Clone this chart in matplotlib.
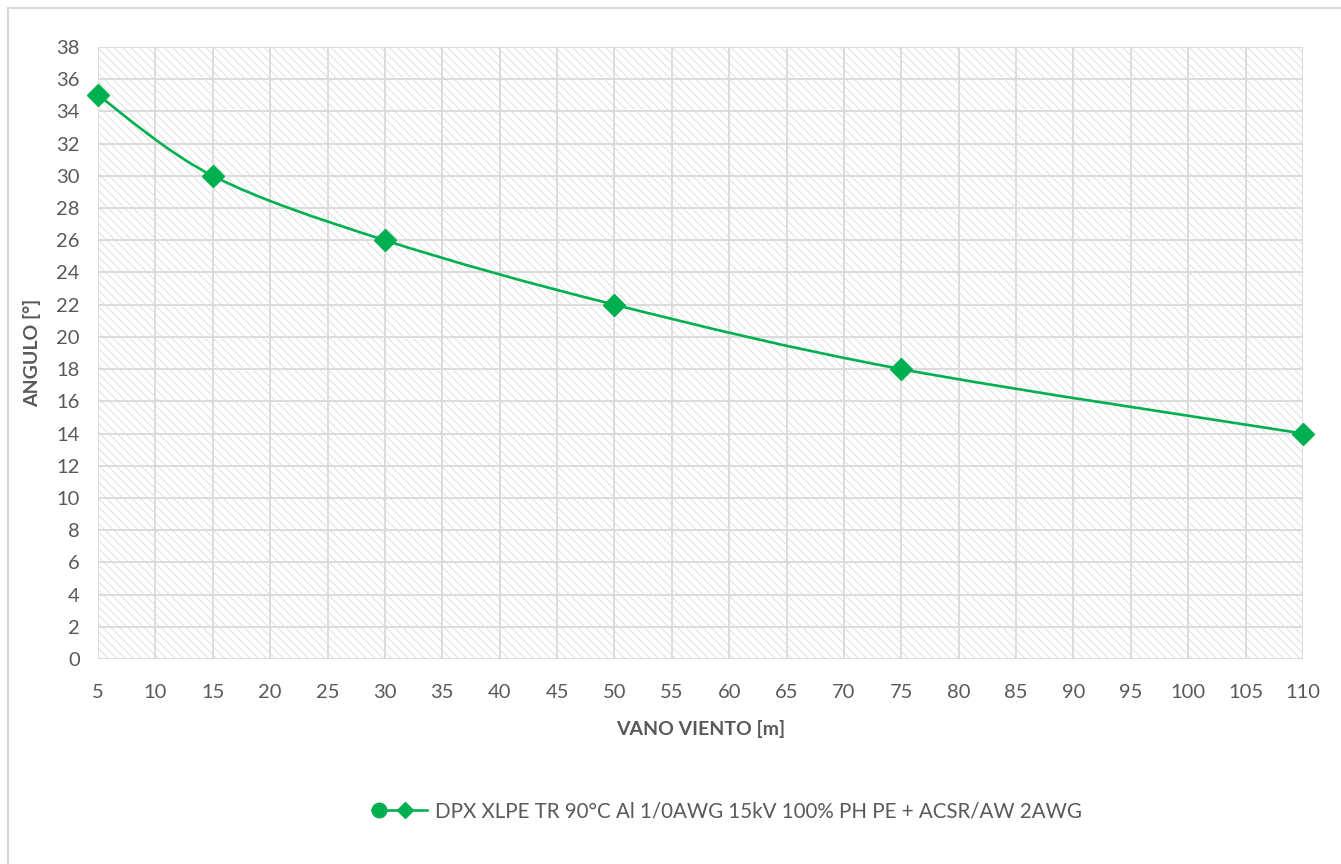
import matplotlib
matplotlib.use("Agg")
import matplotlib.pyplot as plt
from matplotlib.path import Path
from matplotlib.patches import PathPatch, Rectangle
from matplotlib.lines import Line2D
from matplotlib.legend_handler import HandlerBase
import numpy as np

# ---- data ----
vano = [5, 15, 30, 50, 75, 110]
angulo = [35, 30, 26, 22, 18, 14]
series_label = "DPX XLPE TR 90°C Al 1/0AWG 15kV 100% PH PE + ACSR/AW 2AWG"
x_ticks = list(range(5, 111, 5))
y_ticks = list(range(0, 39, 2))
x_label = "VANO VIENTO [m]"
y_label = "ANGULO [°]"

GREEN = "#00B050"
TXT = "#595959"
GRID = "#d9d9d9"

plt.rcParams['font.family'] = ['Lato', 'DejaVu Sans']
plt.rcParams['hatch.linewidth'] = 0.6

W, H = 1341, 864
fig = plt.figure(figsize=(W / 100, H / 100), dpi=100)

# chart border
fig.add_artist(Line2D([8 / W, 8 / W], [0, 1 - 8 / H], color=GRID, lw=1.5, transform=fig.transFigure))
fig.add_artist(Line2D([8 / W, 1], [1 - 8 / H, 1 - 8 / H], color=GRID, lw=1.5, transform=fig.transFigure))

left, right = 98 / W, 1303 / W
bottom, top = 1 - 659 / H, 1 - 47 / H
ax = fig.add_axes([left, bottom, right - left, top - bottom])
ax.set_facecolor("white")
ax.add_patch(Rectangle((0, 0), 1, 1, transform=ax.transAxes, facecolor="white",
                       hatch='\\\\\\\\', edgecolor="#dadada", lw=0, zorder=0))

ax.set_xlim(vano[0], vano[-1])
ax.set_ylim(0, 38)
ax.set_xticks(x_ticks)
ax.set_yticks(y_ticks)
ax.grid(True, color=GRID, lw=1.3, zorder=1)
ax.set_axisbelow(True)
for s in ax.spines.values():
    s.set_visible(False)
ax.tick_params(length=0, labelsize=14.5, labelcolor=TXT)
ax.tick_params(axis='y', pad=13)
ax.tick_params(axis='x', pad=18)

# smoothed line (Bezier through the data points, Excel-like)
pts = np.column_stack([vano, angulo]).astype(float)
verts = [tuple(pts[0])]
codes = [Path.MOVETO]
n = len(pts)
for i in range(n - 1):
    p0 = pts[i - 1] if i > 0 else pts[i]
    p1 = pts[i]
    p2 = pts[i + 1]
    p3 = pts[i + 2] if i + 2 < n else pts[i + 1]
    c1 = p1 + (p2 - p0) / 6.0
    c2 = p2 - (p3 - p1) / 6.0
    verts += [tuple(c1), tuple(c2), tuple(p2)]
    codes += [Path.CURVE4] * 3
ax.add_patch(PathPatch(Path(verts, codes), facecolor="none", edgecolor=GREEN, lw=1.9,
                       zorder=3, clip_on=False))
ax.plot(vano, angulo, linestyle="none", marker="D", ms=11.5, color=GREEN, zorder=4,
        clip_on=False)

ax.set_xlabel(x_label, fontsize=14, fontweight="bold", color=TXT, labelpad=14)
ax.set_ylabel(y_label, fontsize=14, fontweight="bold", color=TXT, labelpad=11)


class ExcelHandler(HandlerBase):
    def create_artists(self, legend, orig_handle, xdescent, ydescent, width, height,
                       fontsize, trans):
        yc = height / 2 - ydescent
        line = Line2D([-xdescent, width - xdescent], [yc, yc], color=GREEN, lw=1.9)
        circ = Line2D([-xdescent + 5], [yc], marker="o", ms=10.5, color=GREEN, linestyle="none")
        dia = Line2D([-xdescent + width * 0.6], [yc], marker="D", ms=8.5, color=GREEN,
                     linestyle="none")
        for a in (line, circ, dia):
            a.set_transform(trans)
        return [line, circ, dia]


proxy = Line2D([], [], color=GREEN)
fig.legend([proxy], [series_label], handler_map={Line2D: ExcelHandler()},
           loc="center", bbox_to_anchor=(727 / W, 1 - 811 / H), frameon=False,
           fontsize=14.8, labelcolor=TXT, handlelength=2.7, handletextpad=0.4,
           borderpad=0.2)

fig.savefig("out.png", dpi=100)
